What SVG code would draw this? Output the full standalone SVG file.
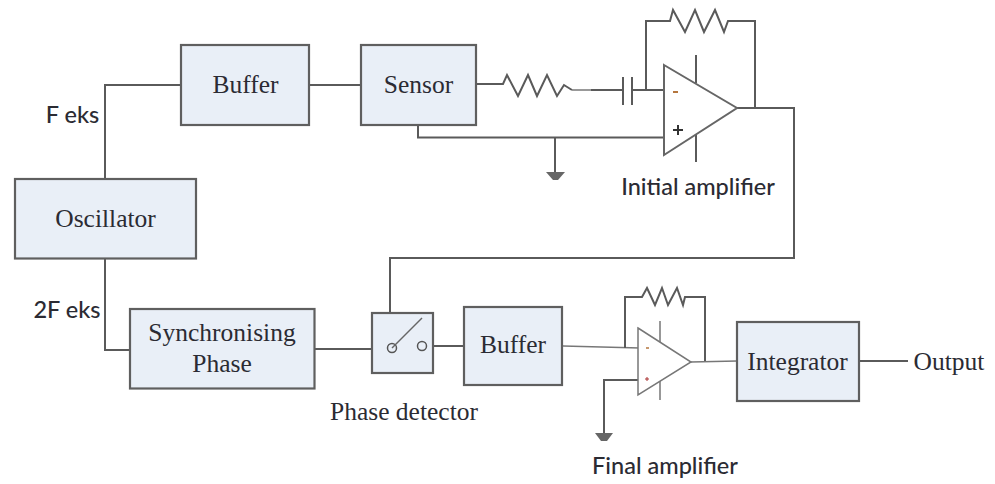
<svg xmlns="http://www.w3.org/2000/svg" width="995" height="484" viewBox="0 0 995 484">
<style>
.box{fill:#e9eff7;stroke:#5f5f5f;stroke-width:2.2}
.w{fill:none;stroke:#5a5a5a;stroke-width:2}
.l{fill:none;stroke:#777;stroke-width:1.5}
.t{fill:none;stroke:#666;stroke-width:1.5}
.s{font-family:"Liberation Serif",serif;font-size:25.5px;fill:#2b2b33;text-anchor:middle}
.c{font-family:"Lato","Liberation Sans",sans-serif;font-size:23.5px;font-weight:500;fill:#2b2b33;text-anchor:middle}
.g{fill:#666}
</style>
<rect width="995" height="484" fill="#fff"/>
<g id="connectors">
<path class="w" d="M105 179V85H181"/>
<path class="w" d="M309 85H361"/>
<path class="w" d="M105 259V350H130"/>
<path class="w" d="M477 84H503L507 75L518 96L528 75L537 96L547 75L557 96L564 85L572 90"/>
<path class="l" d="M572 90H591"/>
<path class="w" d="M591 90H623M623 77V105M632 77V105M632 90H664"/>
<path class="w" d="M646 90V21H670L673 10L685 32L695 10L704 32L715 10L724 32L728 21H755V108"/>
<path class="w" d="M418 125V137.500H664"/>
<path class="w" d="M555 137V172"/>
<path class="g" d="M546 172H565L558 180H553Z"/>
<path class="w" d="M737 108H794V258H390V313"/>
<path class="w" d="M315 349H392"/>
<path class="w" d="M433 346H464"/>
<path class="l" d="M563 346L640 348"/>
<path class="w" d="M625 348V297H642L647 288L655 305L662 288L668 305L677 288L683 305L685 297H705V362"/>
<path class="w" d="M638 380H604V433"/>
<path class="g" d="M595 433H613L607 441H601Z"/>
<path class="l" d="M691 362L737 361"/>
<path class="w" d="M859 361H908"/>
<path class="w" d="M696 55V83M696 133V162"/>
<path class="l" d="M660 321V342M660 381V400"/>
</g>
<g id="oscillator"><rect class="box" x="15" y="179" width="181" height="79.500"/><text class="s" x="105.500" y="227">Oscillator</text></g>
<g id="buffer1"><rect class="box" x="181" y="45" width="128" height="80"/><text class="s" x="245.500" y="93">Buffer</text></g>
<g id="sensor"><rect class="box" x="361" y="45" width="115" height="80"/><text class="s" x="418.500" y="93">Sensor</text></g>
<g id="sync"><rect class="box" x="130" y="309" width="184.500" height="79.500"/><text class="s" x="222" y="341">Synchronising</text><text class="s" x="222" y="372">Phase</text></g>
<g id="phase-detector"><rect class="box" x="372" y="313" width="61" height="60"/><circle cx="392" cy="348" r="4.500" fill="none" stroke="#555" stroke-width="1.500"/><circle cx="422" cy="346" r="4.500" fill="none" stroke="#555" stroke-width="1.500"/><path class="t" d="M392 348L422 318"/><text class="s" x="404" y="420">Phase detector</text></g>
<g id="buffer2"><rect class="box" x="464" y="307" width="98" height="78"/><text class="s" x="513" y="353">Buffer</text></g>
<g id="integrator"><rect class="box" x="737" y="322" width="122" height="79"/><text class="s" x="797.500" y="370">Integrator</text></g>
<g id="initial-amp"><path d="M664 65L737 108L664 155Z" fill="#fff" stroke="#666" stroke-width="2"/><path d="M673 92H678" stroke="#b5763e" stroke-width="2"/><path d="M673 130H683M678 125V135" stroke="#333" stroke-width="2"/><text class="c" x="698" y="195">Initial amplifier</text></g>
<g id="final-amp"><path d="M638 328L691 362L638 395Z" fill="#fff" stroke="#777" stroke-width="1.500"/><path d="M646 348H649" stroke="#b5763e" stroke-width="1.500"/><path d="M645 379H649M647 377V381" stroke="#a33" stroke-width="1"/><text class="c" x="665" y="474">Final amplifier</text></g>
<g id="labels"><text class="c" x="72.500" y="123">F eks</text><text class="c" x="67" y="318">2F eks</text><text class="s" x="949" y="370">Output</text></g>
</svg>
